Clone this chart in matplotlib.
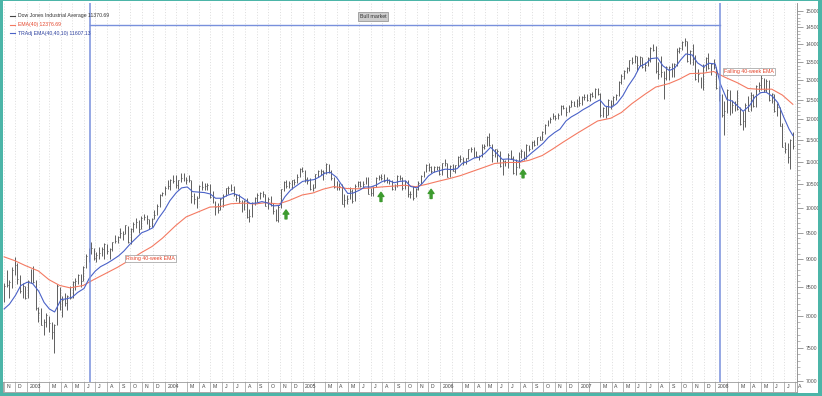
import matplotlib
matplotlib.use('Agg')
import matplotlib.pyplot as plt
from matplotlib.lines import Line2D
from matplotlib.patches import Rectangle
from matplotlib.ticker import NullFormatter
import numpy as np
import pandas as pd

plt.rcParams['font.family'] = ['Liberation Sans', 'DejaVu Sans']

# weekly bars (week ending Friday), Nov 2002 .. 25 Jul 2008, one row per month
highs = [
    8560, 8800, 8620, 8850, 9043,  8930, 8700, 8560, 8520,
    8620, 8810, 8870, 8620, 8150,  8130, 7950, 8050, 8000,  7900, 7880, 8540, 8500,
    8340, 8400, 8350, 8520,  8600, 8650, 8720, 8730, 8870,  9100, 9200, 9330, 9200,
    9130, 9220, 9220, 9300,  9290, 9200, 9330, 9460, 9430,  9590, 9530, 9660, 9640,
    9600, 9710, 9800, 9760, 9830,  9880, 9850, 9770, 9800,  9950, 10080, 10290, 10340,
    10460, 10600, 10610, 10710, 10700,  10600, 10740, 10750, 10660,  10700, 10600, 10320, 10250,
    10480, 10570, 10520, 10530, 10500,  10350, 10150, 10100, 10200,  10300, 10420, 10450, 10500,
    10450, 10300, 10280, 10170, 10160,  10200, 9980, 10120, 10220,  10320, 10340, 10360, 10300,
    10220, 10250, 10100, 9980, 10060,  10400, 10560, 10580, 10560,  10600, 10620, 10720, 10860, 10870,
    10800, 10650, 10640, 10500,  10730, 10800, 10840, 10820,  10960, 10950, 10800, 10650,
    10560, 10520, 10500, 10280, 10260,  10430, 10400, 10500, 10560,  10570, 10560, 10650, 10650,
    10420, 10470, 10660, 10700, 10720,  10720, 10650, 10620, 10580,  10510, 10690, 10700, 10650, 10590,
    10580, 10350, 10450, 10420,  10560, 10700, 10790, 10940,  10960, 10900, 10900, 10910, 10890,
    10970, 11050, 10970, 10920,  10950, 10930, 11120, 11140,  11100, 11090, 11300, 11330, 11330,
    11250, 11160, 11400, 11400,  11600, 11670, 11400, 11300,  11300, 11240, 11060, 11040, 11190,
    11260, 11120, 11050, 11230,  11280, 11250, 11400, 11390,  11480, 11490, 11580, 11600, 11720,
    11880, 11980, 12050, 12170,  12100, 12160, 12360, 12360,  12320, 12350, 12500, 12460, 12520,
    12580, 12580, 12630, 12640,  12680, 12700, 12800, 12790,  12680, 12300, 12330, 12520, 12500,
    12590, 12630, 12980, 13180,  13290, 13360, 13560, 13630,  13690, 13680, 13660, 13650, 13500,
    13630, 13920, 14020, 13950,  13500, 13660, 13250, 13400, 13400,  13470, 13480, 13900, 13940,
    14100, 14200, 14100, 13830,  14000, 13700, 13300, 13100, 13440,  13650, 13750, 13480, 13600,
    13360, 12850, 12630, 12450,  12770, 12750, 12500, 12450, 12750,  12300, 12200, 12400, 12600,
    12700, 12650, 12880, 12950,  13140, 13060, 13030, 13000, 12680,  12650, 12400, 12300, 11900,
    11450, 11430, 11520, 11700,
]
lows = [
    8230, 8500, 8300, 8470, 8700,  8550, 8400, 8300, 8280,
    8300, 8560, 8560, 8100, 7900,  7850, 7700, 7820, 7750,  7640, 7416, 7850, 8100,
    7990, 8170, 8100, 8280,  8300, 8450, 8550, 8500, 8600,  8830, 8950, 9100, 8980,
    8950, 9000, 9050, 9000,  9100, 9000, 9150, 9300, 9300,  9400, 9360, 9470, 9300,
    9290, 9520, 9600, 9500, 9570,  9750, 9680, 9580, 9620,  9780, 9850, 10020, 10250,
    10270, 10400, 10380, 10520, 10420,  10400, 10550, 10560, 10500,  10550, 10100, 10070, 10000,
    10200, 10380, 10370, 10380, 10200,  10100, 9850, 9900, 9960,  10020, 10240, 10300, 10360,
    10250, 10150, 10100, 9920, 9950,  9800, 9710, 9820, 10050,  10120, 10180, 10230, 10030,
    9980, 10030, 9880, 9740, 9710,  10000, 10350, 10420, 10420,  10400, 10480, 10530, 10650, 10760,
    10550, 10500, 10380, 10360,  10420, 10650, 10700, 10600,  10720, 10750, 10600, 10420,
    10380, 10380, 10070, 10010, 10090,  10190, 10100, 10140, 10440,  10440, 10440, 10500, 10290,
    10250, 10250, 10440, 10580, 10580,  10540, 10530, 10500, 10380,  10380, 10440, 10580, 10370, 10400,
    10230, 10210, 10160, 10220,  10380, 10500, 10660, 10760,  10780, 10750, 10760, 10800, 10710,
    10700, 10900, 10650, 10650,  10780, 10750, 10880, 11000,  10930, 10950, 11050, 11220, 11100,
    11100, 11040, 11100, 11280,  11350, 11370, 10990, 11100,  10980, 10870, 10700, 10900, 10850,
    11050, 10720, 10700, 10850,  11080, 11030, 11060, 11250,  11280, 11350, 11390, 11490, 11500,
    11640, 11840, 11900, 12000,  11980, 12000, 12100, 12250,  12080, 12180, 12300, 12330, 12320,
    12330, 12360, 12480, 12450,  12450, 12560, 12540, 12620,  12050, 12060, 12030, 12100, 12250,
    12350, 12480, 12600, 12900,  13050, 13200, 13250, 13450,  13480, 13250, 13400, 13350, 13260,
    13400, 13500, 13800, 13200,  13050, 13100, 12520, 13000, 13000,  13080, 13100, 13380, 13750,
    13850, 13950, 13500, 13450,  13430, 13000, 12950, 12790, 12740,  13250, 13300, 13150, 13300,
    12780, 12450, 12050, 11630,  12150, 12100, 12150, 12200, 12230,  11850, 11730, 11800, 12200,
    12220, 12300, 12300, 12700,  12750, 12700, 12700, 12450, 12420,  12180, 12080, 11830, 11330,
    11200, 10960, 10830, 11300,
]
closes = [
    8517, 8537, 8579, 8804, 8896,  8645, 8433, 8511, 8303,
    8601, 8785, 8586, 8131, 8053,  7864, 7908, 8018, 7891,  7740, 7859, 8522, 8145,
    8277, 8221, 8338, 8307,  8583, 8604, 8713, 8601, 8850,  9062, 9117, 9200, 9011,
    9070, 9119, 9188, 9284,  9153, 9191, 9321, 9348, 9415,  9503, 9471, 9644, 9313,
    9572, 9674, 9721, 9582, 9801,  9810, 9768, 9629, 9782,  9863, 10042, 10278, 10305,
    10409, 10458, 10600, 10568, 10488,  10593, 10628, 10620, 10584,  10595, 10240, 10186, 10213,
    10470, 10442, 10451, 10472, 10225,  10117, 10012, 9966, 10188,  10242, 10410, 10416, 10371,
    10282, 10213, 10140, 9962, 10140,  9815, 9825, 10110, 10195,  10260, 10314, 10284, 10047,
    10192, 10055, 9933, 9758, 10027,  10387, 10539, 10456, 10522,  10592, 10543, 10661, 10827, 10783,
    10603, 10558, 10393, 10427,  10716, 10797, 10785, 10766,  10941, 10774, 10629, 10442,
    10404, 10461, 10088, 10157, 10192,  10345, 10140, 10471, 10542,  10460, 10513, 10623, 10297,
    10303, 10449, 10640, 10652, 10641,  10558, 10600, 10559, 10397,  10447, 10678, 10641, 10419, 10569,
    10292, 10287, 10215, 10402,  10531, 10686, 10766, 10931,  10877, 10778, 10875, 10883, 10718,
    10959, 10960, 10667, 10908,  10793, 10919, 11115, 11061,  11022, 11076, 11280, 11280, 11109,
    11120, 11138, 11347, 11367,  11577, 11380, 11144, 11278,  11247, 10891, 11015, 10989, 11150,
    11090, 10740, 10868, 11219,  11240, 11089, 11381, 11284,  11464, 11392, 11560, 11508, 11679,
    11850, 11960, 12002, 12090,  12031, 12108, 12342, 12280,  12194, 12307, 12445, 12343, 12463,
    12398, 12556, 12565, 12487,  12653, 12580, 12768, 12647,  12114, 12276, 12110, 12481, 12354,
    12560, 12612, 12961, 13120,  13265, 13327, 13556, 13507,  13668, 13424, 13639, 13360, 13409,
    13612, 13907, 13851, 13265,  13182, 13239, 13079, 13379, 13358,  13113, 13442, 13820, 13896,
    14066, 14093, 13522, 13807,  13595, 13043, 13177, 12981, 13372,  13626, 13340, 13451, 13366,
    12800, 12606, 12099, 12207,  12743, 12182, 12348, 12381, 12266,  11894, 11951, 12361, 12216,
    12609, 12325, 12849, 12891,  13058, 12745, 12986, 12480, 12638,  12209, 12307, 11843, 11346,
    11288, 11100, 11496, 11370,
]

# EMA(40): first week, then last week of each month Nov 2002 .. Jul 2008
red_ema = [
    9040, 8970, 8880,
    8781, 8625, 8524, 8481, 8523, 8627, 8724, 8848, 8963, 9119, 9233, 9394,
    9640, 9815, 9904, 10016, 10026, 10086, 10099, 10079, 10106, 10081, 10152, 10269,
    10310, 10393, 10448, 10406, 10400, 10413, 10440, 10456, 10477, 10445, 10496, 10569,
    10624, 10687, 10790, 10872, 10958, 10980, 10980, 11029, 11138, 11290, 11453, 11651,
    11805, 11960, 12028, 12170, 12395, 12639, 12824, 12917, 13035, 13186, 13197, 13242,
    13095, 12938, 12787, 12766, 12769, 12616, 12377,
]

# TRAdj EMA(40,40,10): 1st and 15th of each month from Nov 2002, last value 25 Jul 2008
blue_trend = [
    8120, 8200, 8350, 8520,
    8580, 8560, 8420, 8230, 8120, 8070, 8280, 8290, 8320, 8400, 8470, 8650,
    8780, 8860, 8920, 8980, 9060, 9150, 9280, 9380, 9500, 9540, 9600, 9780,
    9960, 10150, 10320, 10420, 10440, 10340, 10330, 10320, 10290, 10200, 10200, 10260,
    10300, 10260, 10170, 10090, 10100, 10130, 10100, 10040, 10050, 10230, 10380, 10460,
    10560, 10580, 10600, 10660, 10740, 10760, 10650, 10480, 10300, 10310, 10370, 10440,
    10440, 10480, 10560, 10590, 10530, 10560, 10570, 10450, 10420, 10520, 10680, 10760,
    10800, 10830, 10820, 10840, 10960, 11000, 11080, 11100, 11200, 11330, 11180, 11050,
    11060, 11040, 11000, 11070, 11200, 11300, 11420, 11560, 11680, 11760, 11960, 12060,
    12150, 12240, 12330, 12420, 12490, 12330, 12300, 12400, 12600, 12850, 13100, 13380,
    13460, 13600, 13620, 13400, 13270, 13330, 13560, 13730, 13700, 13480, 13370, 13470,
    13450, 12900, 12500, 12460, 12330, 12200, 12340, 12560, 12680, 12690, 12580, 12420,
    12050, 11760, 11607,
]

legend_texts = ['Dow Jones Industrial Average 11370.69', 'EMA(40) 12376.69',
                'TRAdj EMA(40,40,10) 11607.13']
y_ticks = [7000, 7500, 8000, 8500, 9000, 9500, 10000, 10500, 11000,
           11500, 12000, 12500, 13000, 13500, 14000, 14500, 15000]
bull_start, bull_end, bull_level = '2003-06-17', '2008-01-14', 14560
arrow_dates = ['2004-11-18', '2005-07-28', '2005-12-08', '2006-08-09']
arrow_tops = [9957, 10325, 10389, 10814]
arrow_bottoms = [9775, 10132, 10195, 10638]

BAR = '#5e5e5e'
RED = '#f47a62'
BLUE = '#4a62c8'
VLINE = '#7890dc'
TEAL = '#4cb5a8'

dates = pd.date_range(end='2008-07-25', periods=len(closes), freq='W-FRI')
week = pd.Series(dates)
month_last = week.groupby(week.dt.to_period('M')).max()
red_x = [dates[0]] + list(month_last)
blue_x = list(pd.date_range('2002-11-01', periods=len(blue_trend) - 1, freq='SMS')) + [dates[-1]]

W, H = 822, 396
fig = plt.figure(figsize=(W / 100, H / 100), dpi=100)
fig.patch.set_facecolor('white')

def fbox(x0, y0, x1, y1):
    # pixel box (top-left origin) -> figure fraction rect
    return [x0 / W, 1 - y1 / H, (x1 - x0) / W, (y1 - y0) / H]

ax = fig.add_axes(fbox(3, 3, 797, 382))
strip = fig.add_axes(fbox(3, 382, 797, 392), sharex=ax)

xmin, xmax = pd.Timestamp('2002-10-29'), pd.Timestamp('2008-08-05')
months = pd.date_range('2002-11-01', '2008-08-01', freq='MS')

for m in months:
    ax.axvline(m, color='#d2d2d2', lw=0.5, ls=(0, (1.5, 2.5)), zorder=1)

ax.vlines(dates, lows, highs, color=BAR, lw=0.7, zorder=2)
ax.hlines(closes, dates, dates + pd.Timedelta(days=2.5), color=BAR, lw=0.7, zorder=2)
ax.plot(red_x, red_ema, color=RED, lw=0.8, zorder=3)
ax.plot(blue_x, blue_trend, color=BLUE, lw=0.8, zorder=3)

# bull market markers
ax.axvline(pd.Timestamp(bull_start), color=VLINE, lw=1.1, zorder=3)
ax.axvline(pd.Timestamp(bull_end), color=VLINE, lw=1.1, zorder=3)
ax.plot([pd.Timestamp(bull_start), pd.Timestamp(bull_end)], [bull_level, bull_level],
        color=VLINE, lw=1.0, zorder=3)
ax.text(pd.Timestamp('2005-07-07'), 14830, 'Bull market', fontsize=3.8, color='#333333',
        ha='center', va='center', zorder=5,
        bbox=dict(boxstyle='square,pad=0.3', fc='#cccccc', ec='#8a8a8a', lw=0.5))

ax.text(pd.Timestamp('2003-11-25'), 9010, 'Rising 40-week EMA', fontsize=3.8, color='#e4452b',
        ha='center', va='center', zorder=5,
        bbox=dict(boxstyle='square,pad=0.25', fc='white', ec='#9a9a9a', lw=0.5))
ax.text(pd.Timestamp('2008-03-30'), 13243, 'Falling 40-week EMA', fontsize=3.8, color='#e4452b',
        ha='center', va='center', zorder=5,
        bbox=dict(boxstyle='square,pad=0.25', fc='white', ec='#9a9a9a', lw=0.5))

for d, top, bot in zip(arrow_dates, arrow_tops, arrow_bottoms):
    ax.annotate('', xy=(pd.Timestamp(d), top), xytext=(pd.Timestamp(d), bot),
                arrowprops=dict(width=1.4, headwidth=4.2, headlength=3.0,
                                color='#3d9b2f', shrink=0), zorder=5)

# legend block
leg_colors = ['#444444', RED, BLUE]
leg_text_colors = ['#333333', '#e4452b', '#2b3f9e']
for i, (txt, lc, tc) in enumerate(zip(legend_texts, leg_colors, leg_text_colors)):
    yy = 0.9657 - i * 0.0225
    ax.add_line(Line2D([0.0088, 0.0151], [yy, yy], transform=ax.transAxes, color=lc, lw=0.8))
    ax.text(0.0189, yy, txt, transform=ax.transAxes, fontsize=3.7, color=tc,
            ha='left', va='center')

ax.set_yscale('log')
ax.set_ylim(6986, 15249)
ax.set_xlim(xmin, xmax)
ax.yaxis.tick_right()
ax.set_yticks(y_ticks)
ax.set_yticklabels([str(v) for v in y_ticks])
ax.set_yticks(np.arange(7000, 15001, 100), minor=True)
ax.yaxis.set_minor_formatter(NullFormatter())
ax.tick_params(axis='y', which='major', length=4, width=0.5, colors='#777777',
               labelsize=3.7, labelcolor='#555555', pad=2)
ax.tick_params(axis='y', which='minor', length=2, width=0.4, colors='#888888')
ax.tick_params(axis='x', which='both', bottom=False, labelbottom=False)
for side in ['left', 'top', 'bottom']:
    ax.spines[side].set_visible(False)
ax.spines['right'].set_color('#888888')
ax.spines['right'].set_linewidth(0.6)

# month strip
for m in months:
    strip.axvline(m, color='#9a9a9a', lw=0.5)
    if m.month == 1:
        lab = str(m.year)
    elif m.month == 2:
        lab = ''
    else:
        lab = m.strftime('%b')[0]
    if m < xmax:
        strip.text(m + pd.Timedelta(days=7), 0.5, lab, fontsize=3.7, color='#444444',
                   ha='left', va='center')
strip.set_xlim(xmin, xmax)
strip.set_ylim(0, 1)
strip.set_yticks([])
strip.tick_params(axis='x', which='both', bottom=False, labelbottom=False)
for side in strip.spines.values():
    side.set_color('#9a9a9a')
    side.set_linewidth(0.6)

# teal frame around the picture
for r in [fbox(0, 0, 3, H), fbox(818, 0, W, H), fbox(0, 393, W, H), fbox(0, 0, W, 1)]:
    fig.add_artist(Rectangle((r[0], r[1]), r[2], r[3], transform=fig.transFigure,
                             fc=TEAL, ec='none'))

fig.savefig('out.png', dpi=100)
